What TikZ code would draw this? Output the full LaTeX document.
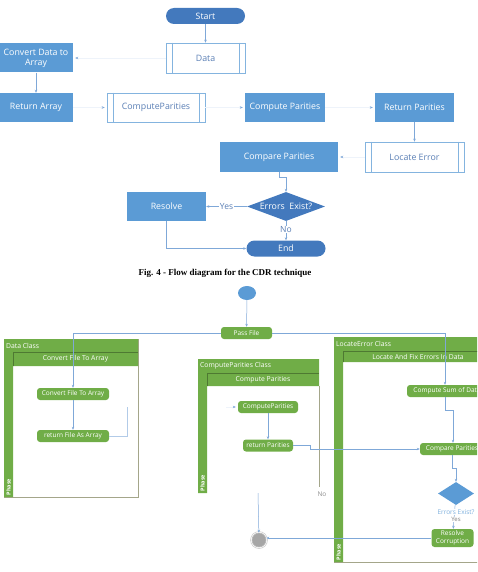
\documentclass[tikz,border=0pt]{standalone}
\usepackage{fontspec}
\setmainfont{Liberation Serif}
\newfontfamily\boxfont{Open Sans}
\usetikzlibrary{shapes.geometric,arrows.meta}

\definecolor{procblue}{HTML}{5B9BD5}
\definecolor{termblue}{HTML}{4379BD}
\definecolor{lineblue}{HTML}{7FA8D8}
\definecolor{faintblue}{HTML}{EEF3FA}
\definecolor{textblue}{HTML}{5A7FB5}
\definecolor{actgreen}{HTML}{70AD47}
\definecolor{laneedge}{HTML}{A4A68A}
\definecolor{endgray}{HTML}{A6A6A6}

\tikzset{
  proc/.style={fill=procblue,text=white,minimum width=79pt,minimum height=29pt,inner sep=1pt,align=center,font=\boxfont\fontsize{8.8}{10}\selectfont},
  predef/.style={draw=procblue!75,line width=0.5pt,fill=white,text=textblue,minimum width=79pt,minimum height=30pt,inner sep=1pt,font=\boxfont\fontsize{8.8}{10}\selectfont},
  term/.style={fill=termblue,text=white,rounded corners=8pt,minimum width=79pt,minimum height=16pt,inner sep=1pt,font=\boxfont\fontsize{8.8}{10}\selectfont},
  decide/.style={diamond,fill=termblue,text=white,aspect=2.7,inner sep=0pt,minimum width=78pt,minimum height=29pt,font=\boxfont\fontsize{8.8}{10}\selectfont},
  flow/.style={draw=lineblue,line width=0.5pt,-{Stealth[length=3pt,width=2.5pt]}},
  ghost/.style={draw=faintblue,line width=0.5pt,shorten >=2pt,-{Stealth[length=3pt,width=2.5pt,color=lineblue]}},
  link/.style={draw=lineblue!60,line width=0.6pt},
  tag/.style={fill=white,inner sep=0.6pt,text=textblue,font=\boxfont\fontsize{8.5}{9}\selectfont},
  act/.style={fill=actgreen,text=white,rounded corners=3pt,inner sep=0.5pt,minimum height=12pt,align=center,font=\boxfont\fontsize{6.5}{7.5}\selectfont},
  lanetext/.style={text=white,inner sep=1pt,font=\boxfont\fontsize{6.8}{7.5}\selectfont},
  phase/.style={text=white,rotate=90,inner sep=0.5pt,font=\boxfont\bfseries\fontsize{5.5}{6}\selectfont}
}

\begin{document}
\begin{tikzpicture}[x=1pt,y=-1pt]
    \useasboundingbox (0,0) rectangle (477,572);
    \clip (0,0) rectangle (477,572);

    \node[term] (start) at (205.5,16) {Start};
    \node[predef] (data) at (205.5,58) {Data};
    \node[proc,minimum width=74pt] (cdata) at (36,58) {Convert Data to\\Array};
    \node[proc,minimum width=74pt] (rarr) at (36,107.5) {Return Array};
    \node[predef,minimum width=98pt,minimum height=29pt] (cpp) at (156,107.5) {ComputeParities};
    \node[proc,minimum width=80pt] (cpar) at (285,107.5) {Compute Parities};
    \node[proc] (rpar) at (414.5,107.5) {Return Parities};
    \node[predef,minimum width=99pt] (loc) at (414.5,157) {Locate Error};
    \node[proc,minimum width=118pt] (cmp) at (279,157) {Compare Parities};
    \node[decide] (dec) at (286,206.5) {Errors\ \ Exist?};
    \node[proc] (res) at (166.5,206.5) {Resolve};
    \node[term] (fin) at (286,248.5) {End};
    \foreach \n in {data,cpp,loc}
        \draw[procblue!75,line width=0.5pt] ([xshift=6pt]\n.north west) -- ([xshift=6pt]\n.south west)
            ([xshift=-6pt]\n.north east) -- ([xshift=-6pt]\n.south east);

    \draw[flow] (start) -- (data);
    \draw[ghost] (data) -- (cdata);
    \draw[flow] (cdata) -- (rarr);
    \draw[ghost] (rarr) -- (cpp);
    \draw[ghost] (cpp) -- (cpar);
    \draw[ghost] (cpar) -- (rpar);
    \draw[flow] (rpar) -- (loc);
    \draw[ghost] (loc) -- (cmp);
    \draw[flow] (cmp.south) -- ++(0,6) -| (dec.north);
    \draw[flow] (dec) -- node[tag] {Yes} (res);
    \draw[flow] (dec) -- node[tag,pos=0.45] {No} (fin);
    \draw[flow] (res.south) |- (fin.west);

    \node[font=\bfseries\fontsize{9}{10}\selectfont] (cap) at (225,273) {Fig. 4 - Flow diagram for the CDR technique};

    % swimlanes
    \draw[laneedge,line width=0.6pt] (4,339) rectangle (138,497);
    \fill[actgreen] (4,339) rectangle (138,366) (4,339) rectangle (13,497);
    \draw[actgreen!70!black,line width=0.3pt] (13,352) -- (138,352) (13,352) -- (13,366);
    \node[lanetext,anchor=west] (dclass) at (5,345.5) {Data Class};
    \node[lanetext] (dlane) at (75.5,359) {Convert File To Array};
    \node[phase,anchor=west] (dphase) at (8.5,496) {Phase};

    \fill[actgreen] (198,359) rectangle (319,386) (198,359) rectangle (207,493);
    \draw[actgreen!70!black,line width=0.3pt] (207,373) -- (319,373) (207,373) -- (207,386);
    \draw[laneedge,line width=0.6pt] (319,386) -- (319,487);
    \node[lanetext,anchor=west] (cclass) at (199,366) {ComputeParities Class};
    \node[lanetext] (clane) at (263,379.5) {Compute Parities};
    \node[phase,anchor=west] (cphase) at (202.5,492) {Phase};
    \node[text=gray!90,inner sep=0.5pt,font=\boxfont\fontsize{6.5}{7}\selectfont] (no) at (322,494) {No};

    \draw[laneedge,line width=0.6pt] (334,562) -- (480,562);
    \fill[actgreen] (334,337) rectangle (480,362) (334,337) rectangle (343,562);
    \draw[actgreen!70!black,line width=0.3pt] (343,351) -- (480,351) (343,351) -- (343,362);
    \node[lanetext,anchor=west] (lclass) at (335,344) {LocateError Class};
    \node[lanetext] (llane) at (418,356.5) {Locate And Fix Errors In Data};
    \node[phase,anchor=west] (lphase) at (338.5,561) {Phase};

    % activities
    \node[fill=procblue,ellipse,minimum width=18pt,minimum height=14pt,inner sep=0pt] (init) at (247,293) {};
    \node[act,minimum width=51pt] (pass) at (246.5,333) {Pass File};
    \node[act,minimum width=72pt] (conv) at (73,394) {Convert File To Array};
    \node[act,minimum width=72pt] (retf) at (73,436) {return File As Array};
    \node[act,minimum width=60pt] (cpa) at (268,407) {ComputeParities};
    \node[act,minimum width=50pt] (rpb) at (268,445.5) {return Parities};
    \node[act,minimum width=80pt] (sum) at (447,391) {Compute Sum of Data};
    \node[act,minimum width=64pt] (cmpb) at (452,449) {Compare Parities};
    \node[diamond,fill=procblue,aspect=1.55,minimum width=36pt,minimum height=23pt,inner sep=0pt] (chk) at (456,493.5) {};
    \node[act,minimum width=42pt,minimum height=18pt,font=\boxfont\fontsize{6.5}{8}\selectfont] (rc) at (452.5,538) {Resolve\\Corruption};
    \node[circle,fill=endgray,draw=gray!55,line width=0.6pt,minimum size=14pt,inner sep=0pt] (stop) at (259,540) {};
    \draw[gray!45,line width=0.5pt] (stop) circle (8.5pt);
    \coordinate (cpin) at (226,407);
    \coordinate (dup) at (127,407);
    \coordinate (sink) at (258,493);

    \draw[flow] (init) -- (pass);
    \draw[flow] (pass.west) -| (conv.north);
    \draw[flow] (pass.east) -| ([xshift=-2pt]sum.north);
    \draw[flow] (conv) -- (retf);
    \draw[link] (retf.east) -| (dup);
    \draw[ghost] (cpin) -- (cpa);
    \draw[flow] (cpa) -- (rpb);
    \draw[flow] (rpb.east) -- ++(17,0) |- (cmpb.west);
    \draw[flow] ([xshift=-2pt]sum.south) -- ++(0,13) -| ([xshift=1pt]cmpb.north);
    \draw[flow] (cmpb.south) -- ++(0,13) -| (chk.north);
    \draw[flow] (chk) -- (rc);
    \node[fill=white,inner sep=0.3pt,text=procblue!80,font=\boxfont\fontsize{6.5}{7}\selectfont] (chklbl) at (456,512) {Errors Exist?};
    \node[fill=white,inner sep=0.3pt,text=gray,font=\boxfont\fontsize{6}{7}\selectfont] (yes) at (456,519.5) {Yes};
    \draw[flow] (rc.west) -- (stop.east |- rc.west);
    \draw[flow] (sink) -- (stop);
\end{tikzpicture}
\end{document}
